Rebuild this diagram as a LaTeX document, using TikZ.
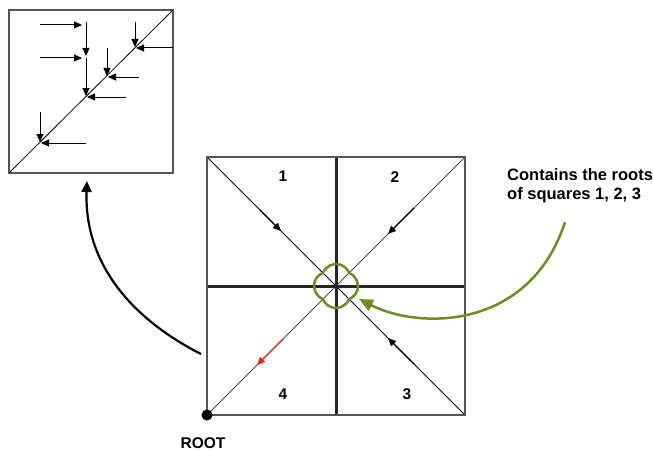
\documentclass[tikz,border=0pt]{standalone}
\usepackage{fontspec}
\setmainfont{Liberation Sans}
\usetikzlibrary{arrows.meta}
\definecolor{boxgray}{RGB}{85,85,85}
\definecolor{leafgreen}{RGB}{107,142,35}
\definecolor{rootred}{RGB}{224,48,16}
\tikzset{
  frame/.style={draw=boxgray, line width=2.5pt},
  thinline/.style={draw=black, line width=0.8pt},
  axis/.style={draw=black!85, line width=3pt},
  smallarrow/.style={draw=black, line width=1pt, -{Triangle[length=8pt,width=7pt]}},
  diagarrow/.style={draw=black, line width=1.4pt, -{Triangle[length=8pt,width=7pt]}},
  lbl/.style={font=\bfseries\fontsize{15.5}{17}\selectfont, inner sep=0pt},
}
\begin{document}
\begin{tikzpicture}[x=1pt,y=-1pt]
\useasboundingbox (0,0) rectangle (653,452);
% ---------- small box ----------
\coordinate (sbl) at (9,173);
\coordinate (str) at (173,10);
\draw[frame] (9,10) rectangle (173,173);
\draw[thinline] (sbl) -- (str);
% arrows inside small box
\coordinate (h1s) at (40,25);  \coordinate (h1e) at (82,25);
\coordinate (v1s) at (86,22);  \coordinate (v1e) at (86,56);
\coordinate (h2s) at (40,58);  \coordinate (h2e) at (82,58);
\coordinate (v2s) at (86,58);  \coordinate (v2e) at (86,96);
\coordinate (h3s) at (126,97); \coordinate (h3e) at (87,97);
\coordinate (v3s) at (107,48); \coordinate (v3e) at (107,76);
\coordinate (h4s) at (139,77); \coordinate (h4e) at (108,77);
\coordinate (v4s) at (135,22); \coordinate (v4e) at (135,47);
\coordinate (h5s) at (173,48); \coordinate (h5e) at (136,48);
\coordinate (v5s) at (40,112); \coordinate (v5e) at (40,142);
\coordinate (h6s) at (86,143); \coordinate (h6e) at (41,143);
\foreach \a in {h1,v1,h2,v2,h3,v3,h4,v4,h5,v5,h6}
  \draw[smallarrow] (\a s) -- (\a e);
% ---------- big square ----------
\coordinate (tl) at (207,157);
\coordinate (tr) at (465,157);
\coordinate (bl) at (207,415);
\coordinate (br) at (465,415);
\coordinate (c) at (336,286);
\draw[thinline] (tl) -- (br);
\draw[thinline, draw=black!70] (tr) -- (bl);
\draw[axis] (336,157) -- (336,415);
\draw[axis] (207,286) -- (465,286);
\draw[frame] (tl) rectangle (br);
% quadrant labels
\node[lbl] (q1) at (283,176) {1};
\node[lbl] (q2) at (395,177) {2};
\node[lbl] (q4) at (283,394) {4};
\node[lbl] (q3) at (407,394) {3};
% diagonal arrows
\coordinate (a1s) at (260,210); \coordinate (a1e) at (281,231);
\coordinate (a2s) at (414,208); \coordinate (a2e) at (388,234);
\coordinate (a3s) at (414,364); \coordinate (a3e) at (388,338);
\coordinate (a4s) at (283,339); \coordinate (a4e) at (257,365);
\draw[diagarrow] (a1s) -- (a1e);
\draw[diagarrow] (a2s) -- (a2e);
\draw[diagarrow] (a3s) -- (a3e);
\draw[diagarrow, draw=rootred, fill=rootred] (a4s) -- (a4e);
% root dot
\fill[black] (bl) circle (5.5);
\node[lbl, anchor=north] (root) at (203,437) {ROOT};
% clover
\begin{scope}[shift={(c)}]
\draw[leafgreen, line width=2.5pt]
  (13.05,13.05) arc[start angle=21.2, end angle=158.8, radius=14]
  arc[start angle=111.2, end angle=248.8, radius=14]
  arc[start angle=201.2, end angle=338.8, radius=14]
  arc[start angle=-68.8, end angle=68.8, radius=14] -- cycle;
\end{scope}
\coordinate (clover) at (359,299);
% text
\node[font=\bfseries\fontsize{16.5}{19}\selectfont, align=left, anchor=north west, inner sep=0pt] (note) at (507,168)
  {Contains the roots\\of squares 1, 2, 3};
\coordinate (gstart) at (565,222);
\draw[leafgreen, line width=2.5pt, -{Triangle[length=14pt,width=12pt]}]
  (gstart) .. controls (530,330) and (420,330) .. (clover);
% black curved arrow
\coordinate (bstart) at (201,354);
\coordinate (bend) at (87,181);
\draw[black, line width=2.2pt, -{Triangle[length=11pt,width=10pt]}]
  (bstart) .. controls (130,318) and (84,262) .. (bend);
\end{tikzpicture}
\end{document}
